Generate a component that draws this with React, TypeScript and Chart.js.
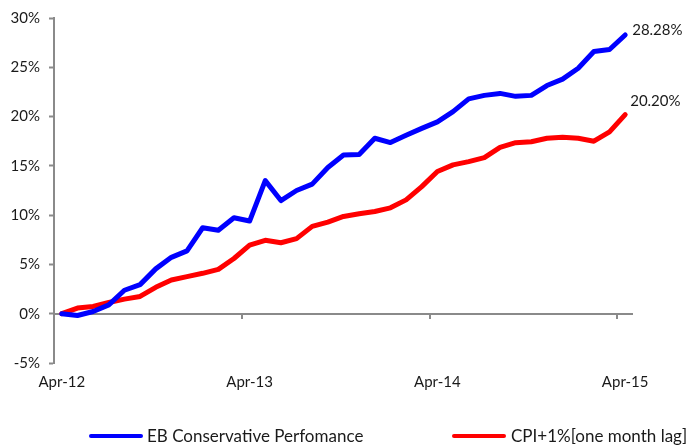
import React, { useEffect, useRef } from "react";
import { Chart, registerables } from "chart.js";

Chart.register(...registerables);

const categories: string[] = [
  "Apr-12", "May-12", "Jun-12", "Jul-12", "Aug-12", "Sep-12", "Oct-12", "Nov-12", "Dec-12", "Jan-13", "Feb-13", "Mar-13",
  "Apr-13", "May-13", "Jun-13", "Jul-13", "Aug-13", "Sep-13", "Oct-13", "Nov-13", "Dec-13", "Jan-14", "Feb-14", "Mar-14",
  "Apr-14", "May-14", "Jun-14", "Jul-14", "Aug-14", "Sep-14", "Oct-14", "Nov-14", "Dec-14", "Jan-15", "Feb-15", "Mar-15",
  "Apr-15",
];

const ebConservative: number[] = [
  0, -0.18, 0.22, 0.9, 2.38, 2.95, 4.55, 5.72, 6.38, 8.72, 8.46, 9.73,
  9.4, 13.5, 11.48, 12.5, 13.15, 14.83, 16.1, 16.15, 17.8, 17.36, 18.1, 18.8,
  19.46, 20.5, 21.8, 22.15, 22.35, 22.05, 22.15, 23.15, 23.8, 24.9, 26.6, 26.8,
  28.28,
];

const cpiPlus1: number[] = [
  0, 0.57, 0.74, 1.14, 1.48, 1.75, 2.68, 3.42, 3.76, 4.1, 4.5, 5.6,
  6.95, 7.45, 7.2, 7.62, 8.86, 9.3, 9.87, 10.15, 10.37, 10.74, 11.55, 12.89,
  14.43, 15.1, 15.43, 15.84, 16.88, 17.35, 17.45, 17.8, 17.9, 17.8, 17.5, 18.45,
  20.2,
];

const seriesNames: string[] = ["EB Conservative Perfomance", "CPI+1%[one month lag]"];
const seriesColors: string[] = ["#0000ff", "#ff0000"];
const endLabels: string[] = ["28.28%", "20.20%"];
const yMin = -5;
const yMax = 30;
const yStep = 5;
const labelEvery = 12;

const AXIS = "#8a8a8a";
const TEXT = "#1a1a1a";
const FONT = "Lato";

const axisPlugin = {
  id: "zeroAxis",
  beforeDatasetsDraw(chart: any) {
    const { ctx, chartArea, scales } = chart;
    const xs = scales.x;
    const ys = scales.y;
    const y0 = Math.round(ys.getPixelForValue(0));
    ctx.save();
    ctx.strokeStyle = AXIS;
    ctx.lineWidth = 2;
    ctx.beginPath();
    ctx.moveTo(chartArea.left, y0);
    ctx.lineTo(chartArea.right, y0);
    const half = (xs.getPixelForValue(1) - xs.getPixelForValue(0)) / 2;
    for (let i = labelEvery; i < categories.length; i += labelEvery) {
      const px = Math.round(xs.getPixelForValue(i) - half);
      ctx.moveTo(px, y0);
      ctx.lineTo(px, y0 + 5);
    }
    ctx.stroke();
    ctx.restore();
  },
  afterDatasetsDraw(chart: any) {
    const { ctx } = chart;
    const offsets = [
      [7, -5],
      [5, -13],
    ];
    ctx.save();
    ctx.fillStyle = TEXT;
    ctx.font = `15px ${FONT}`;
    ctx.textAlign = "left";
    ctx.textBaseline = "middle";
    chart.data.datasets.forEach((_: any, di: number) => {
      const meta = chart.getDatasetMeta(di);
      const pt = meta.data[meta.data.length - 1];
      ctx.fillText(endLabels[di], pt.x + offsets[di][0], pt.y + offsets[di][1]);
    });
    ctx.restore();
  },
};

export default function App() {
  const canvasRef = useRef<HTMLCanvasElement | null>(null);

  useEffect(() => {
    const canvas = canvasRef.current;
    if (!canvas) return;
    const chart = new Chart(canvas, {
      type: "line",
      data: {
        labels: categories,
        datasets: [
          {
            label: seriesNames[0],
            data: ebConservative,
            borderColor: seriesColors[0],
            backgroundColor: seriesColors[0],
            borderWidth: 5,
            pointRadius: 0,
            tension: 0,
            borderJoinStyle: "round",
            borderCapStyle: "round",
          },
          {
            label: seriesNames[1],
            data: cpiPlus1,
            borderColor: seriesColors[1],
            backgroundColor: seriesColors[1],
            borderWidth: 5,
            pointRadius: 0,
            tension: 0,
            borderJoinStyle: "round",
            borderCapStyle: "round",
          },
        ],
      },
      options: {
        responsive: false,
        animation: false,
        devicePixelRatio: 1,
        layout: { padding: { top: 16, right: 55, bottom: 47, left: 0 } },
        plugins: {
          legend: { display: false },
          tooltip: { enabled: false },
        },
        scales: {
          x: {
            type: "category",
            offset: true,
            grid: { display: false, drawTicks: false, offset: true },
            border: { display: false },
            ticks: {
              autoSkip: false,
              maxRotation: 0,
              padding: 10,
              color: TEXT,
              font: { family: FONT, size: 15 },
              callback: (_v: any, i: number) => (i % labelEvery === 0 ? categories[i] : ""),
            },
          },
          y: {
            min: yMin,
            max: yMax,
            afterFit: (scale: any) => {
              scale.width = 54;
            },
            grid: { drawOnChartArea: false, drawTicks: true, tickLength: 5, tickColor: AXIS, tickWidth: 2 },
            border: { display: true, color: AXIS, width: 2 },
            ticks: {
              stepSize: yStep,
              padding: 9,
              color: TEXT,
              font: { family: FONT, size: 15 },
              callback: (v: any) => `${v}%`,
            },
          },
        },
      },
      plugins: [axisPlugin],
    });
    return () => chart.destroy();
  }, []);

  const legendText: React.CSSProperties = {
    position: "absolute",
    top: 426,
    height: 20,
    lineHeight: "20px",
    fontFamily: FONT,
    fontSize: 17,
    color: TEXT,
    whiteSpace: "nowrap",
  };
  const legendLine = (color: string, left: number): React.CSSProperties => ({
    position: "absolute",
    left,
    top: 434,
    width: 54,
    height: 4,
    borderRadius: 2,
    background: color,
  });

  return (
    <div
      style={{
        position: "fixed",
        left: 0,
        top: 0,
        width: 688,
        height: 448,
        overflow: "hidden",
        background: "#ffffff",
      }}
    >
      <canvas ref={canvasRef} width={688} height={448} style={{ display: "block", width: 688, height: 448 }} />
      <div style={legendLine(seriesColors[0], 89)} />
      <div style={{ ...legendText, left: 147 }}>{seriesNames[0]}</div>
      <div style={legendLine(seriesColors[1], 452)} />
      <div style={{ ...legendText, left: 511 }}>{seriesNames[1]}</div>
    </div>
  );
}
